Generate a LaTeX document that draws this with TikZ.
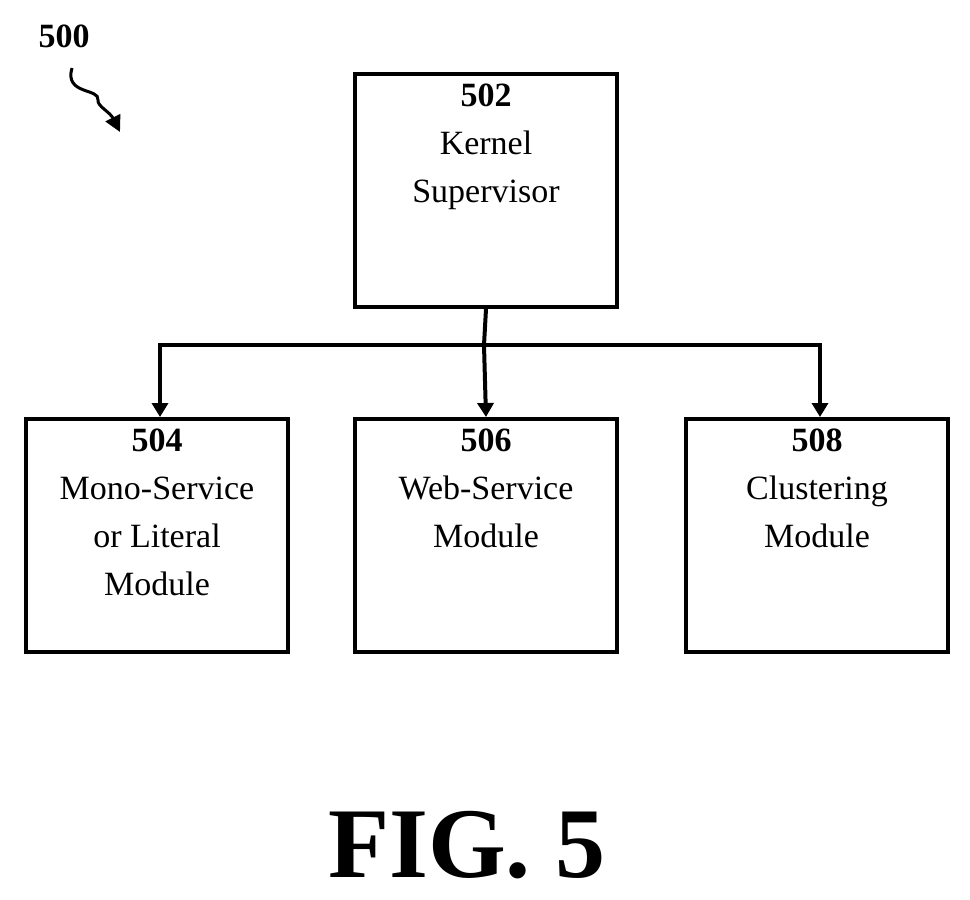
\documentclass[tikz,border=0pt]{standalone}
\usepackage{fontspec}
\setmainfont{Liberation Serif}
\usetikzlibrary{arrows.meta}
\begin{document}
\begin{tikzpicture}[x=1pt,y=-1pt,
  box/.style={draw,line width=4pt,minimum width=262pt,minimum height=233pt,anchor=north west,inner sep=0pt},
  lbl/.style={align=center,font=\fontsize{34}{48}\selectfont,anchor=north},
  conn/.style={line width=4pt,-{Triangle[length=14pt,width=16pt]}}]
\useasboundingbox (0,0) rectangle (970,900);
\node[box] (b502) at (353,72) {};
\node[box] (b504) at (24,417) {};
\node[box] (b506) at (353,417) {};
\node[box] (b508) at (684,417) {};
\node[lbl] at ([yshift=-8pt]b502.north) {\textbf{502}\\Kernel\\Supervisor};
\node[lbl] at ([yshift=-8pt]b504.north) {\textbf{504}\\Mono-Service\\or Literal\\Module};
\node[lbl] at ([yshift=-8pt]b506.north) {\textbf{506}\\Web-Service\\Module};
\node[lbl] at ([yshift=-8pt]b508.north) {\textbf{508}\\Clustering\\Module};
\coordinate (j) at (484,345);
\draw[line width=4pt] (b502.south) -- (j);
\draw[line width=4pt,line cap=rect] (160,345) -- (820,345);
\draw[conn] (160,345) -- (b504.north -| 160,0);
\draw[conn] (j) -- (b506.north);
\draw[conn] (820,345) -- (b508.north -| 820,0);
\node[font=\fontsize{34}{40}\selectfont\bfseries] (n500) at (64,36) {500};
\coordinate (a0) at (72,68);
\coordinate (a1) at (120,132);
\draw[line width=3pt,-{Triangle[length=16pt,width=16pt]}] (a0) .. controls (64,95) and (100,88) .. (98,100) .. controls (97,106) and (110,112) .. (a1);
\node[font=\fontsize{100}{110}\selectfont\bfseries] (fig) at (467,845) {FIG. 5};
\end{tikzpicture}
\end{document}
